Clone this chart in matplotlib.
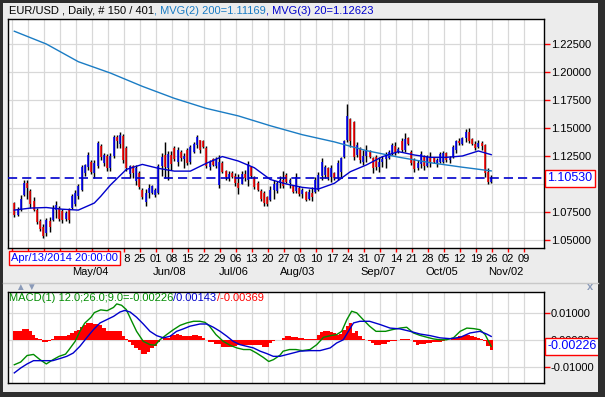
import matplotlib
matplotlib.use('Agg')
import matplotlib.pyplot as plt
import matplotlib.transforms as mtransforms
from matplotlib.patches import Rectangle
import numpy as np

plt.rcParams['font.family'] = ['Liberation Sans', 'DejaVu Sans']

# daily bars (150 visible bars)
open_ = [1.0830, 1.0720, 1.0780, 1.0900, 1.1010, 1.0940, 1.0850, 1.0770, 1.0670, 1.0620,
         1.0560, 1.0670, 1.0680, 1.0770, 1.0790, 1.0760, 1.0690, 1.0770, 1.0790, 1.0820,
         1.0890, 1.0950, 1.1100, 1.1150, 1.1200, 1.1100, 1.1160, 1.1340, 1.1190, 1.1250,
         1.1140, 1.1250, 1.1420, 1.1360, 1.1430, 1.1320, 1.1090, 1.1160, 1.1030, 1.1100,
         1.0950, 1.0840, 1.0920, 1.0920, 1.0900, 1.0920, 1.1160, 1.1260, 1.1140, 1.1260,
         1.1320, 1.1200, 1.1290, 1.1220, 1.1300, 1.1200, 1.1290, 1.1350, 1.1390, 1.1380,
         1.1320, 1.1150, 1.1220, 1.1160, 1.0990, 1.1190, 1.1120, 1.1050, 1.1100, 1.1070,
         1.1010, 1.1000, 1.1090, 1.1040, 1.1150, 1.1060, 1.1010, 1.0940, 1.0920, 1.0880,
         1.0860, 1.0950, 1.0940, 1.1010, 1.1040, 1.1080, 1.1010, 1.0980, 1.0940, 1.0960,
         1.0910, 1.0930, 1.0870, 1.0920, 1.0930, 1.0950, 1.1070, 1.1080, 1.1140, 1.1060,
         1.1100, 1.1050, 1.1110, 1.1240, 1.1390, 1.1580, 1.1550, 1.1260, 1.1320, 1.1200,
         1.1250, 1.1290, 1.1230, 1.1240, 1.1150, 1.1200, 1.1220, 1.1230, 1.1270, 1.1340,
         1.1290, 1.1380, 1.1300, 1.1410, 1.1290, 1.1210, 1.1140, 1.1180, 1.1250, 1.1160,
         1.1240, 1.1230, 1.1190, 1.1200, 1.1200, 1.1280, 1.1210, 1.1240, 1.1300, 1.1380,
         1.1360, 1.1410, 1.1460, 1.1400, 1.1360, 1.1330, 1.1370, 1.1350, 1.1110, 1.1020]
high = [1.0842, 1.0794, 1.0901, 1.1040, 1.1040, 1.0951, 1.0883, 1.0788, 1.0684, 1.0640,
        1.0699, 1.0705, 1.0812, 1.0847, 1.0803, 1.0773, 1.0758, 1.0788, 1.0907, 1.0942,
        1.0996, 1.1174, 1.1183, 1.1286, 1.1218, 1.1218, 1.1387, 1.1358, 1.1278, 1.1269,
        1.1278, 1.1441, 1.1441, 1.1464, 1.1447, 1.1337, 1.1174, 1.1174, 1.1168, 1.1114,
        1.0966, 1.0951, 1.1002, 1.0990, 1.0966, 1.1180, 1.1278, 1.1375, 1.1292, 1.1298,
        1.1337, 1.1328, 1.1307, 1.1278, 1.1322, 1.1352, 1.1375, 1.1435, 1.1396, 1.1396,
        1.1337, 1.1218, 1.1233, 1.1239, 1.1263, 1.1209, 1.1129, 1.1114, 1.1114, 1.1099,
        1.1085, 1.1114, 1.1129, 1.1209, 1.1159, 1.1070, 1.1025, 1.0951, 1.0936, 1.0892,
        1.0981, 1.1040, 1.1025, 1.1070, 1.1114, 1.1099, 1.1055, 1.0990, 1.1099, 1.0981,
        1.0966, 1.0936, 1.0951, 1.0972, 1.1060, 1.1110, 1.1229, 1.1170, 1.1155, 1.1170,
        1.1110, 1.1214, 1.1244, 1.1393, 1.1714, 1.1586, 1.1565, 1.1378, 1.1333, 1.1304,
        1.1348, 1.1304, 1.1244, 1.1259, 1.1238, 1.1250, 1.1289, 1.1304, 1.1363, 1.1378,
        1.1333, 1.1408, 1.1452, 1.1422, 1.1304, 1.1229, 1.1214, 1.1295, 1.1259, 1.1259,
        1.1289, 1.1238, 1.1229, 1.1289, 1.1295, 1.1289, 1.1250, 1.1348, 1.1393, 1.1408,
        1.1422, 1.1488, 1.1497, 1.1408, 1.1384, 1.1393, 1.1384, 1.1357, 1.1140, 1.1080]
low = [1.0705, 1.0711, 1.0758, 1.0892, 1.0862, 1.0788, 1.0758, 1.0640, 1.0580, 1.0515,
       1.0536, 1.0575, 1.0669, 1.0699, 1.0669, 1.0655, 1.0669, 1.0655, 1.0773, 1.0803,
       1.0862, 1.0936, 1.1070, 1.1129, 1.1085, 1.1055, 1.1144, 1.1218, 1.1159, 1.1120,
       1.1120, 1.1233, 1.1322, 1.1322, 1.1189, 1.1114, 1.1055, 1.1055, 1.0990, 1.0951,
       1.0862, 1.0803, 1.0871, 1.0913, 1.0883, 1.0907, 1.1070, 1.1055, 1.1040, 1.1129,
       1.1203, 1.1159, 1.1203, 1.1144, 1.1174, 1.1180, 1.1278, 1.1322, 1.1278, 1.1322,
       1.1144, 1.1129, 1.1159, 1.1144, 1.0966, 1.1099, 1.1040, 1.1025, 1.1055, 1.0981,
       1.0907, 1.0996, 1.1025, 1.0981, 1.1055, 1.0951, 1.0936, 1.0847, 1.0803, 1.0803,
       1.0847, 1.0862, 1.0922, 1.0966, 1.0960, 1.1010, 1.0966, 1.0922, 1.0922, 1.0892,
       1.0877, 1.0847, 1.0860, 1.0847, 1.0922, 1.0940, 1.1036, 1.1051, 1.1036, 1.1021,
       1.1036, 1.1036, 1.1066, 1.1229, 1.1378, 1.1333, 1.1214, 1.1244, 1.1190, 1.1170,
       1.1199, 1.1229, 1.1095, 1.1125, 1.1110, 1.1149, 1.1140, 1.1220, 1.1259, 1.1259,
       1.1274, 1.1289, 1.1289, 1.1348, 1.1170, 1.1110, 1.1125, 1.1140, 1.1125, 1.1149,
       1.1155, 1.1185, 1.1155, 1.1185, 1.1185, 1.1199, 1.1185, 1.1229, 1.1280, 1.1348,
       1.1348, 1.1378, 1.1363, 1.1348, 1.1304, 1.1318, 1.1304, 1.1066, 1.1000, 1.1006]
close = [1.0720, 1.0780, 1.0870, 1.1010, 1.0960, 1.0820, 1.0770, 1.0660, 1.0600, 1.0540,
         1.0680, 1.0620, 1.0790, 1.0810, 1.0690, 1.0680, 1.0740, 1.0680, 1.0890, 1.0920,
         1.0980, 1.1150, 1.1170, 1.1260, 1.1110, 1.1190, 1.1370, 1.1240, 1.1260, 1.1140,
         1.1250, 1.1420, 1.1380, 1.1440, 1.1210, 1.1140, 1.1160, 1.1100, 1.1140, 1.0970,
         1.0880, 1.0920, 1.0960, 1.0980, 1.0950, 1.1160, 1.1240, 1.1150, 1.1270, 1.1180,
         1.1220, 1.1300, 1.1230, 1.1250, 1.1190, 1.1330, 1.1360, 1.1420, 1.1300, 1.1330,
         1.1160, 1.1200, 1.1170, 1.1220, 1.1200, 1.1110, 1.1060, 1.1090, 1.1065, 1.1010,
         1.0960, 1.1090, 1.1050, 1.1180, 1.1070, 1.0970, 1.0950, 1.0870, 1.0830, 1.0820,
         1.0950, 1.1000, 1.1010, 1.1040, 1.0980, 1.1020, 1.1040, 1.0930, 1.1060, 1.0910,
         1.0950, 1.0860, 1.0930, 1.0880, 1.1040, 1.1080, 1.1200, 1.1150, 1.1060, 1.1140,
         1.1050, 1.1190, 1.1230, 1.1380, 1.1610, 1.1380, 1.1240, 1.1350, 1.1210, 1.1250,
         1.1300, 1.1240, 1.1140, 1.1150, 1.1200, 1.1220, 1.1270, 1.1290, 1.1350, 1.1290,
         1.1310, 1.1300, 1.1400, 1.1360, 1.1190, 1.1130, 1.1190, 1.1270, 1.1160, 1.1240,
         1.1200, 1.1195, 1.1210, 1.1270, 1.1280, 1.1210, 1.1230, 1.1330, 1.1380, 1.1370,
         1.1410, 1.1460, 1.1380, 1.1360, 1.1320, 1.1370, 1.1340, 1.1100, 1.1015, 1.1053]
last_price = 1.1053

# moving averages, read at sample bars
ma200_idx = [0, 10, 20, 30, 40, 50, 60, 70, 80, 90, 100, 110, 120, 130, 140, 149]
ma200_val = [1.2364, 1.2250, 1.2092, 1.1991, 1.1872, 1.1765, 1.1675, 1.1608, 1.1520, 1.1440,
             1.1376, 1.1298, 1.1240, 1.1190, 1.1150, 1.1117]
ma20_idx = [0, 5, 10, 15, 20, 25, 27, 30, 35, 40, 45, 50, 55, 60, 65, 70, 75, 80, 85, 90,
            95, 100, 105, 110, 115, 120, 125, 130, 135, 140, 145, 149]
ma20_val = [1.0767, 1.0785, 1.0790, 1.0775, 1.0767, 1.0830, 1.0890, 1.0990, 1.1130, 1.1175,
            1.1140, 1.1115, 1.1115, 1.1185, 1.1245, 1.1205, 1.1145, 1.1040, 1.1000, 1.0970,
            1.0955, 1.1006, 1.1110, 1.1170, 1.1244, 1.1289, 1.1259, 1.1238, 1.1238, 1.1250,
            1.1295, 1.1262]

# MACD(12,26,9)
hist = [0.0036, 0.0036, 0.0036, 0.0042, 0.0042, 0.0035, 0.0020, 0.0009, 0.0003, -0.0007,
        -0.0007, -0.0003, 0.0005, 0.0015, 0.0016, 0.0017, 0.0017, 0.0021, 0.0028, 0.0033,
        0.0039, 0.0050, 0.0058, 0.0064, 0.0062, 0.0060, 0.0060, 0.0058, 0.0045, 0.0035,
        0.0033, 0.0034, 0.0036, 0.0034, 0.0015, 0.0003, -0.0008, -0.0016, -0.0030, -0.0036,
        -0.0049, -0.0050, -0.0042, -0.0030, -0.0020, -0.0007, 0.0000, 0.0009, 0.0010, 0.0018,
        0.0021, 0.0023, 0.0020, 0.0017, 0.0015, 0.0015, 0.0018, 0.0021, 0.0015, 0.0009,
        0.0000, -0.0006, -0.0008, -0.0013, -0.0015, -0.0023, -0.0026, -0.0026, -0.0024, -0.0020,
        -0.0018, -0.0018, -0.0016, -0.0016, -0.0016, -0.0018, -0.0018, -0.0018, -0.0024, -0.0026,
        -0.0010, -0.0004, 0.0002, 0.0002, 0.0009, 0.0017, 0.0017, 0.0011, 0.0011, 0.0009,
        0.0009, 0.0006, 0.0004, 0.0003, 0.0003, 0.0021, 0.0029, 0.0033, 0.0033, 0.0030,
        0.0027, 0.0021, 0.0025, 0.0039, 0.0052, 0.0064, 0.0027, 0.0036, 0.0015, 0.0003,
        0.0001, -0.0001, -0.0010, -0.0018, -0.0018, -0.0014, -0.0012, -0.0007, -0.0004, -0.0003,
        0.0002, 0.0004, 0.0006, 0.0003, 0.0002, -0.0006, -0.0016, -0.0014, -0.0013, -0.0011,
        -0.0010, -0.0008, -0.0007, -0.0006, -0.0004, 0.0001, 0.0002, 0.0008, 0.0010, 0.0015,
        0.0016, 0.0021, 0.0018, 0.0014, 0.0011, 0.0009, 0.0005, -0.0004, -0.0022, -0.00369]
macd_idx = [0, 2, 4, 6, 8, 10, 12, 14, 16, 17, 19, 20.5, 22, 24, 25, 27, 29, 31, 32, 33.5,
            35, 36.7, 38.2, 40.3, 42.4, 44, 45.5, 47.6, 49.7, 51.8, 53.9, 56, 58, 59.6, 61, 63,
            65.3, 67.4, 69.5, 71.6, 73.7, 75.7, 77.8, 79.5, 81, 83, 84, 86, 88, 90, 92.4, 94.5,
            96.6, 98.7, 100.7, 102.3, 103.9, 105.4, 107, 109, 111, 113, 116, 118, 120.5, 122.6,
            124.7, 126.8, 129, 131, 133, 135, 137.2, 139.3, 141.4, 143.5, 145.5, 147.1, 148.2, 149]
macd_val = [-0.0090, -0.0080, -0.0056, -0.0052, -0.0071, -0.0087, -0.0072, -0.0059, -0.0051,
            -0.0036, -0.0004, 0.0033, 0.0063, 0.0085, 0.0102, 0.0112, 0.0109, 0.0121, 0.0134,
            0.0129, 0.0113, 0.0070, 0.0033, -0.0004, -0.0016, -0.0018, 0.0002, 0.0021, 0.0039,
            0.0055, 0.0064, 0.0070, 0.0070, 0.0066, 0.0052, 0.0021, -0.0004, -0.0018, -0.0028,
            -0.0034, -0.0034, -0.0047, -0.0063, -0.0078, -0.0071, -0.0055, -0.0040, -0.0034,
            -0.0034, -0.0038, -0.0034, -0.0016, 0.0011, 0.0017, 0.0021, 0.0033, 0.0076, 0.0107,
            0.0101, 0.0076, 0.0052, 0.0033, 0.0033, 0.0039, 0.0045, 0.0048, 0.0027, 0.0018,
            0.0011, 0.0005, 0.0002, 0.0002, 0.0009, 0.0033, 0.0045, 0.0043, 0.0039, 0.0021,
            -0.0004, -0.00226]
sig_idx = [0, 2, 4, 6, 8, 10, 12, 14.3, 16.4, 18.4, 20.5, 22.6, 24.7, 26.8, 28.9, 31, 33,
           34.5, 36.2, 38.2, 40.3, 42.4, 44.5, 46.6, 48.7, 50.7, 52.8, 54.9, 58, 60.1, 62.2,
           64.3, 66.4, 68.4, 70.5, 72.6, 74.7, 76.8, 78.9, 80.9, 83, 86, 89.3, 92.4, 95.5,
           98.7, 100.7, 102.8, 105, 106, 108, 111, 114.3, 117.4, 120.5, 123.7, 126.8, 130, 133,
           136.2, 139.3, 142.4, 145.5, 147.6, 149]
sig_val = [-0.0120, -0.0102, -0.0087, -0.0075, -0.0075, -0.0075, -0.0075, -0.0067, -0.0059,
           -0.0047, -0.0022, 0.0009, 0.0039, 0.0064, 0.0076, 0.0088, 0.0104, 0.0110, 0.0104,
           0.0085, 0.0060, 0.0033, 0.0017, 0.0009, 0.0015, 0.0033, 0.0042, 0.0052, 0.0060,
           0.0060, 0.0048, 0.0033, 0.0015, -0.0004, -0.0016, -0.0022, -0.0028, -0.0040, -0.0049,
           -0.0059, -0.0059, -0.0050, -0.0040, -0.0038, -0.0038, -0.0028, -0.0010, 0.0002,
           0.0045, 0.0064, 0.0070, 0.0070, 0.0058, 0.0045, 0.0042, 0.0033, 0.0023, 0.0017,
           0.0009, 0.0006, 0.0011, 0.0027, 0.0033, 0.0023, 0.00143]

# weekly ticks (Sundays); the first ones sit under the cursor-date box
week_labels = ['', '', '', '', '', '', '', '  8', '25', '01', '08', '15', '22',
               '29', '06', '13', '20', '27', '03', '10', '17', '24', '31', '07', '14', '21',
               '28', '05', '12', '19', '26', '02', '09']
month_labels = ['May/04', 'Jun/08', 'Jul/06', 'Aug/03', 'Sep/07', 'Oct/05', 'Nov/02']
month_week = [5, 10, 14, 18, 23, 27, 31]
price_ticks = [1.050, 1.075, 1.100, 1.125, 1.150, 1.175, 1.200, 1.225]
macd_ticks = [-0.01, 0.0, 0.01]

BG = '#ececec'
GRID = '#d8d8d8'
UP = '#0000ff'
DN = '#ff0000'
MA200_C = '#1a7cc4'
MA20_C = '#0000cc'
MACD_C = '#008c00'

W, H = 605, 397
fig = plt.figure(figsize=(W / 100, H / 100), dpi=100, facecolor=BG)

def fx(px):
    return px / W

def fy(px):
    return 1 - px / H

ax = fig.add_axes([fx(8), fy(248), fx(544) - fx(8), fy(19) - fy(248)])
ax2 = fig.add_axes([fx(8), fy(383), fx(544) - fx(8), fy(292) - fy(383)])

x = np.arange(len(close))
week_pos = np.arange(len(week_labels)) * 5 - 0.8

for a in (ax, ax2):
    a.set_facecolor('white')
    a.set_xlim(-1.97, 165.5)
    a.set_xticks(week_pos)
    a.grid(True, color=GRID, lw=0.9)
    a.set_axisbelow(True)
    for s in a.spines.values():
        s.set_color('black')
        s.set_linewidth(1.0)
    a.yaxis.tick_right()
    a.tick_params(axis='y', colors='red', labelcolor='black', length=4, width=1,
                  labelsize=8, pad=1)

# price panel
ax.set_ylim(1.04286, 1.24732)
ax.set_yticks(price_ticks)
ax.set_yticklabels(['%.5f' % v for v in price_ticks])
ax.set_xticklabels(week_labels)
ax.tick_params(axis='x', colors='red', labelcolor='black', length=3, width=1,
               labelsize=8, pad=1.5, direction='out')

o = np.array(open_)
c = np.array(close)
ax.vlines(x, low, high, color='black', lw=1.05, zorder=3)
body_col = [UP if cc > oo else DN for oo, cc in zip(o, c)]
ax.vlines(x, np.minimum(o, c), np.maximum(o, c), colors=body_col, lw=1.1, zorder=4)

ax.plot(ma200_idx, ma200_val, color=MA200_C, lw=1.0, zorder=5)
ax.plot(ma20_idx, ma20_val, color=MA20_C, lw=1.0, zorder=5)
ax.axhline(last_price, color=MA20_C, lw=1.2, dashes=(5.5, 3), zorder=6)

blend = mtransforms.blended_transform_factory(ax.transAxes, ax.transData)
ax.text(1.006, last_price, '%.5f' % last_price, transform=blend, color='#0000ff',
        fontsize=9, va='center', ha='left', zorder=10,
        bbox=dict(boxstyle='square,pad=0.2', fc='white', ec='red', lw=1))

xtrans = ax.get_xaxis_transform()
mtrans = mtransforms.offset_copy(xtrans, fig=fig, x=0, y=-19, units='dots')
for name, wk in zip(month_labels, month_week):
    ax.text(week_pos[wk] - 0.6, 0, name, transform=mtrans, ha='center', va='top',
            fontsize=8, color='black')

# MACD panel
ax2.set_ylim(-0.01572, 0.01778)
ax2.set_yticks(macd_ticks)
ax2.set_yticklabels(['%.5f' % v for v in macd_ticks])
ax2.tick_params(axis='x', length=0, labelbottom=False)
ax2.bar(x, hist, width=1.0, color=DN, lw=0, zorder=3)
ax2.plot(macd_idx, macd_val, color=MACD_C, lw=1.0, zorder=4)
ax2.plot(sig_idx, sig_val, color=MA20_C, lw=1.0, zorder=4)

blend2 = mtransforms.blended_transform_factory(ax2.transAxes, ax2.transData)
ax2.text(1.006, macd_val[-1], '%.5f' % macd_val[-1], transform=blend2, color='#0000ff',
         fontsize=9, va='center', ha='left', zorder=10,
         bbox=dict(boxstyle='square,pad=0.2', fc='white', ec='red', lw=1))

t = ax2.text(0.002, 0.985, 'MACD(1) 12.0;26.0;9.0=%.5f' % macd_val[-1],
             transform=ax2.transAxes, color=MACD_C, fontsize=8, va='top', ha='left', zorder=10)
t = ax2.annotate('/%.5f' % sig_val[-1], xy=(1, 0), xycoords=t, color=MA20_C, fontsize=8,
                 va='bottom', ha='left', annotation_clip=False)
ax2.annotate('/%.5f' % hist[-1], xy=(1, 0), xycoords=t, color=DN, fontsize=8,
             va='bottom', ha='left', annotation_clip=False)

# header line
t = fig.text(fx(9), fy(11), 'EUR/USD , Daily, # 150 / 401', color='black', fontsize=8,
             va='center', ha='left')
t = ax.annotate(', MVG(2) 200=%.5f' % 1.11169, xy=(1, 0), xycoords=t, color=MA200_C,
                fontsize=8, va='bottom', ha='left', annotation_clip=False)
ax.annotate(', MVG(3) 20=%.5f' % 1.12623, xy=(1, 0), xycoords=t, color=MA20_C,
            fontsize=8, va='bottom', ha='left', annotation_clip=False)

# cursor date box
fig.text(fx(11), fy(258), 'Apr/13/2014 20:00:00', color='#0000ff', fontsize=8,
         va='center', ha='left', zorder=10,
         bbox=dict(boxstyle='square,pad=0.2', fc='white', ec='red', lw=1))

# panel separator and buttons
fig.add_artist(plt.Line2D([fx(3), fx(598)], [fy(283), fy(283)], color='#c8c8c8', lw=1))
fig.text(fx(20), fy(287), '\u25b2', color='#8a9ab8', fontsize=7, ha='center', va='center')
fig.text(fx(31), fy(287), '\u25bc', color='#8a9ab8', fontsize=7, ha='center', va='center')
fig.text(fx(590), fy(287), 'x', color='#8a9ab8', fontsize=8, fontweight='bold',
         ha='center', va='center')

# dark window border
for rx, ry, rw, rh in [(0, 0, 3, H), (598, 0, 7, H), (0, 0, W, 3), (0, 392, W, 5)]:
    fig.add_artist(Rectangle((fx(rx), fy(ry + rh)), rw / W, rh / H, transform=fig.transFigure,
                             fc='#2e2e2e', ec='none'))

fig.savefig('out.png', dpi=100, facecolor=BG)
